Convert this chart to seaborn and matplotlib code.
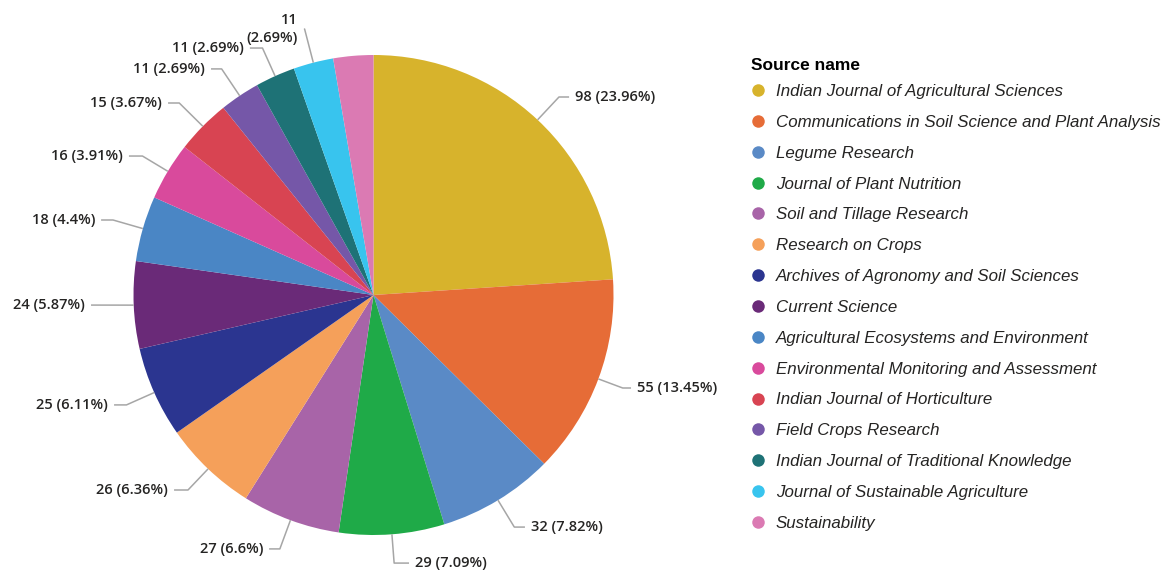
import matplotlib
matplotlib.use("Agg")
import matplotlib.pyplot as plt
from matplotlib.lines import Line2D
from matplotlib.font_manager import FontProperties
import numpy as np
import seaborn as sns

# ---- data ----
sources = [
    "Indian Journal of Agricultural Sciences",
    "Communications in Soil Science and Plant Analysis",
    "Legume Research",
    "Journal of Plant Nutrition",
    "Soil and Tillage Research",
    "Research on Crops",
    "Archives of Agronomy and Soil Sciences",
    "Current Science",
    "Agricultural Ecosystems and Environment",
    "Environmental Monitoring and Assessment",
    "Indian Journal of Horticulture",
    "Field Crops Research",
    "Indian Journal of Traditional Knowledge",
    "Journal of Sustainable Agriculture",
    "Sustainability",
]
counts = [98, 55, 32, 29, 27, 26, 25, 24, 18, 16, 15, 11, 11, 11, 11]
colors = [
    "#D7B32C", "#E66C37", "#5A8AC6", "#1FAA48", "#A864A8",
    "#F5A05A", "#2B3590", "#6A2A78", "#4A86C5", "#D94A9C",
    "#D84452", "#7557A8", "#1E7276", "#38C4EE", "#DB7AB3",
]
legend_title = "Source name"

# ---- layout: label anchor positions in pie-radius units (None = no label) ----
label_xy = [
    (0.84, 0.825), (1.098, -0.3875), (0.656, -0.967), (0.173, -1.117),
    (-0.46, -1.058), (-0.856, -0.8125), (-1.106, -0.458), (-1.202, -0.042),
    (-1.16, 0.3125), (-1.044, 0.579), (-0.881, 0.80), (-0.702, 0.942),
    (-0.54, 1.029), (-0.315, 1.108), None,
]
wrap_label = [False] * 13 + [True, False]

sns.set_theme(style="white")
plt.rcParams["font.family"] = ["Open Sans", "DejaVu Sans"]

W, H = 1167, 571
fig = plt.figure(figsize=(W / 100, H / 100), dpi=100)
ax = fig.add_axes([0, 0, 1, 1])
cx, cy, R = 373.5, 295.0, 240.0

ax.pie(counts, colors=colors, startangle=90, counterclock=False, radius=1,
       wedgeprops=dict(linewidth=0))
ax.set_xlim(-cx / R, (W - cx) / R)
ax.set_ylim(-(H - cy) / R, cy / R)
ax.set_aspect("equal")
ax.axis("off")

total = sum(counts)
cum = np.cumsum([0] + counts)
gap = 0.025
for i, v in enumerate(counts):
    if label_xy[i] is None:
        continue
    mid = np.radians(90 - (cum[i] + v / 2) / total * 360)
    c, s = np.cos(mid), np.sin(mid)
    lx, ly = label_xy[i]
    r = ly / s if abs(s) > 1e-6 else 1.0
    r = min(max(r, 1.0), 1.2)
    ex, ey = r * c, r * s
    side = 1 if lx > ex else -1
    ax.plot([c, ex, lx - side * gap], [s, ey, ly], color="#A6A6A6", lw=1.1,
            solid_capstyle="butt")
    pct = round(v / total * 100, 2)
    sep = "\n" if wrap_label[i] else " "
    txt = f"{v}{sep}({pct:g}%)"
    ax.text(lx, ly, txt, ha="left" if side > 0 else "right", va="center",
            fontsize=10.5, fontweight="semibold", color="#252423",
            multialignment="right", linespacing=1.3)

# legend title
fig.text(751 / W, 1 - 65 / H, legend_title, ha="left", va="center",
         fontproperties=FontProperties(family="Liberation Sans", weight="bold", size=12.5),
         color="#000000")

handles = [Line2D([], [], marker="o", linestyle="", markersize=9,
                  markerfacecolor=col, markeredgewidth=0) for col in colors]
leg = fig.legend(handles, sources, loc="upper left",
                 bbox_to_anchor=(751 / W, 1 - 84 / H), frameon=False,
                 prop=FontProperties(family="Liberation Sans", style="italic", size=12.2),
                 handlelength=0.8, handletextpad=0.65, labelspacing=0.935,
                 borderpad=0, borderaxespad=0)
for t in leg.get_texts():
    t.set_color("#252423")

fig.savefig("out.png", dpi=100, facecolor="white")
